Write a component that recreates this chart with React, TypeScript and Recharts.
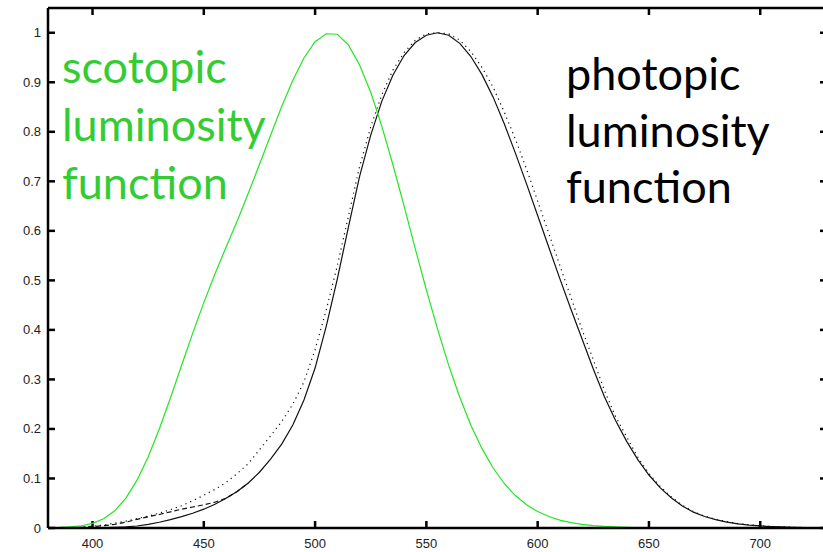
import React from 'react';
import { LineChart, Line, XAxis, YAxis, ReferenceLine } from 'recharts';

// wavelength (nm)
const wavelengths = [
  380, 385, 390, 395, 400, 405, 410, 415, 420, 425, 430, 435, 440, 445, 450, 455, 460, 465, 470, 475,
  480, 485, 490, 495, 500, 505, 510, 515, 520, 525, 530, 535, 540, 545, 550, 555, 560, 565, 570, 575,
  580, 585, 590, 595, 600, 605, 610, 615, 620, 625, 630, 635, 640, 645, 650, 655, 660, 665, 670, 675,
  680, 685, 690, 695, 700, 705, 710, 715, 720, 725, 730,
];

// scotopic luminosity function (green)
const scotopic = [
  0.000589, 0.001108, 0.002209, 0.00453, 0.00929, 0.01852, 0.03484, 0.0604, 0.0966, 0.1436,
  0.1998, 0.2625, 0.3281, 0.3931, 0.455, 0.513, 0.567, 0.62, 0.676, 0.734,
  0.793, 0.851, 0.904, 0.949, 0.982, 0.998, 0.997, 0.975, 0.935, 0.88,
  0.811, 0.733, 0.65, 0.564, 0.481, 0.402, 0.3288, 0.2639, 0.2076, 0.1602,
  0.1212, 0.0899, 0.0655, 0.0469, 0.03315, 0.02312, 0.01593, 0.01088, 0.00737, 0.00497,
  0.003335, 0.002235, 0.001497, 0.001005, 0.000677, 0.000459, 0.000313, 0.000215, 0.000148, 0.000103,
  0.0000715, 0.00005, 0.000035, 0.000025, 0.0000178, 0.0000127, 0.0000091, 0.0000066, 0.0000048, 0.0000035,
  0.0000025,
];

// photopic luminosity function, solid
const photopicSolid = [
  0.000039, 0.000064, 0.00012, 0.000217, 0.000396, 0.00064, 0.00121, 0.00218, 0.004, 0.0073,
  0.0116, 0.01684, 0.023, 0.0298, 0.038, 0.048, 0.06, 0.0739, 0.091, 0.1126,
  0.139, 0.1693, 0.208, 0.2586, 0.323, 0.4073, 0.503, 0.6082, 0.71, 0.7932,
  0.862, 0.91485, 0.954, 0.9803, 0.995, 1.0, 0.995, 0.9786, 0.952, 0.9154,
  0.87, 0.8163, 0.757, 0.6949, 0.631, 0.5668, 0.503, 0.4412, 0.381, 0.321,
  0.265, 0.217, 0.175, 0.1382, 0.107, 0.0816, 0.061, 0.04458, 0.032, 0.0232,
  0.017, 0.01192, 0.00821, 0.005723, 0.004102, 0.002929, 0.002091, 0.001484, 0.001047, 0.00074,
  0.00052,
];

// photopic, dashed (short-wavelength part only)
const photopicDashed = [
  0.0002, 0.000396, 0.0008, 0.00155, 0.0028, 0.0047, 0.0074, 0.0118, 0.0175, 0.0227,
  0.0273, 0.0326, 0.0379, 0.0424, 0.0468, 0.0521, 0.06, 0.0739, 0.091,
];

// photopic, dotted
const photopicDotted = [
  0.0004, 0.0007, 0.0012, 0.002, 0.0035, 0.006, 0.01, 0.014, 0.019, 0.024,
  0.03, 0.037, 0.045, 0.055, 0.066, 0.078, 0.092, 0.11, 0.13, 0.158,
  0.186, 0.215, 0.25, 0.295, 0.36, 0.44, 0.53, 0.63, 0.73, 0.81,
  0.875, 0.925, 0.96, 0.985, 0.998, 1.0, 0.998, 0.985, 0.962, 0.93,
  0.89, 0.84, 0.785, 0.725, 0.66, 0.595, 0.53, 0.465, 0.4, 0.34,
  0.278, 0.225, 0.184, 0.143, 0.11, 0.084, 0.063, 0.046, 0.033, 0.024,
  0.0175, 0.013, 0.009, 0.0065, 0.0045, 0.003, 0.0022, 0.0015, 0.001, 0.0007,
  0.0005,
];

const xDomain = [380, 730];
const yDomain = [0, 1.05];
const xTicks = [400, 450, 500, 550, 600, 650, 700];
const yTicks = [0, 0.1, 0.2, 0.3, 0.4, 0.5, 0.6, 0.7, 0.8, 0.9, 1];

const scotopicLabel = ['scotopic', 'luminosity', 'function'];
const photopicLabel = ['photopic', 'luminosity', 'function'];

const data = wavelengths.map((w, i) => ({
  w,
  scotopic: scotopic[i],
  solid: photopicSolid[i],
  dashed: i < photopicDashed.length ? photopicDashed[i] : null,
  dotted: photopicDotted[i],
}));

// layout
const CHART_W = 835;
const CHART_H = 552;
const M = { top: 8, right: 8, bottom: 0, left: 0 };
const Y_AXIS_W = 48;
const X_AXIS_H = 24;
const PLOT_W = CHART_W - M.left - M.right - Y_AXIS_W;
const PLOT_H = CHART_H - M.top - M.bottom - X_AXIS_H;
const TICK = 7;
const tickDX = (TICK * (xDomain[1] - xDomain[0])) / PLOT_W;
const tickDY = (TICK * (yDomain[1] - yDomain[0])) / PLOT_H;

const fontFamily = 'Liberation Sans, Arial, sans-serif';

const BottomTick = (props: any) => {
  const { x, y, payload } = props;
  return (
    <text x={x} y={y + 20} textAnchor="middle" fontFamily={fontFamily} fontSize={13} fill="#222">
      {String(payload.value)}
    </text>
  );
};

const LeftTick = (props: any) => {
  const { x, y, payload } = props;
  return (
    <text x={x - 7} y={y + 4.5} textAnchor="end" fontFamily={fontFamily} fontSize={13} fill="#222">
      {String(payload.value)}
    </text>
  );
};

export default function App() {
  return (
    <div
      style={{
        position: 'fixed',
        left: 0,
        top: 0,
        width: 823,
        height: 552,
        overflow: 'hidden',
        background: '#fff',
      }}
    >
      <LineChart width={CHART_W} height={CHART_H} data={data} margin={M}>
        <XAxis
          dataKey="w"
          type="number"
          domain={xDomain}
          ticks={xTicks}
          allowDataOverflow
          height={X_AXIS_H}
          tickSize={0}
          tickMargin={0}
          tickLine={false}
          axisLine={{ stroke: '#000000', strokeWidth: 2.5 }}
          tick={<BottomTick />}
        />
        <YAxis
          type="number"
          domain={yDomain}
          ticks={yTicks}
          allowDataOverflow
          width={Y_AXIS_W}
          tickSize={0}
          tickMargin={0}
          tickLine={false}
          axisLine={{ stroke: '#000000', strokeWidth: 2.5 }}
          tick={<LeftTick />}
        />
        {/* box frame: top and right */}
        <ReferenceLine y={yDomain[1]} stroke="#000000" strokeWidth={2.5} ifOverflow="visible" />
        <ReferenceLine x={xDomain[1]} stroke="#000000" strokeWidth={2.5} ifOverflow="visible" />
        {/* inward tick marks on all four sides */}
        {xTicks.map((t) => (
          <ReferenceLine
            key={'xb' + t}
            segment={[{ x: t, y: yDomain[0] }, { x: t, y: yDomain[0] + tickDY }]}
            stroke="#000000"
            strokeWidth={2.5}
            ifOverflow="visible"
          />
        ))}
        {xTicks.map((t) => (
          <ReferenceLine
            key={'xt' + t}
            segment={[{ x: t, y: yDomain[1] }, { x: t, y: yDomain[1] - tickDY }]}
            stroke="#000000"
            strokeWidth={2.5}
            ifOverflow="visible"
          />
        ))}
        {yTicks.map((t) => (
          <ReferenceLine
            key={'yl' + t}
            segment={[{ x: xDomain[0], y: t }, { x: xDomain[0] + tickDX, y: t }]}
            stroke="#000000"
            strokeWidth={2.5}
            ifOverflow="visible"
          />
        ))}
        {yTicks.map((t) => (
          <ReferenceLine
            key={'yr' + t}
            segment={[{ x: xDomain[1], y: t }, { x: xDomain[1] - tickDX, y: t }]}
            stroke="#000000"
            strokeWidth={2.5}
            ifOverflow="visible"
          />
        ))}
        <Line
          type="linear"
          dataKey="dotted"
          stroke="#111"
          strokeWidth={1.2}
          strokeDasharray="1.2 4"
          dot={false}
          activeDot={false}
          isAnimationActive={false}
        />
        <Line
          type="linear"
          dataKey="dashed"
          stroke="#111"
          strokeWidth={1.2}
          strokeDasharray="5 3"
          dot={false}
          activeDot={false}
          isAnimationActive={false}
        />
        <Line
          type="linear"
          dataKey="solid"
          stroke="#111"
          strokeWidth={1.2}
          dot={false}
          activeDot={false}
          isAnimationActive={false}
        />
        <Line
          type="linear"
          dataKey="scotopic"
          stroke="#22e622"
          strokeWidth={1.2}
          dot={false}
          activeDot={false}
          isAnimationActive={false}
        />
      </LineChart>
      <svg
        width={823}
        height={552}
        style={{ position: 'absolute', left: 0, top: 0, pointerEvents: 'none' }}
      >
        {scotopicLabel.map((t, i) => (
          <text
            key={'s' + i}
            x={62}
            y={83 + i * 58}
            fill="#33cc33"
            fontFamily="Lato, 'Open Sans', sans-serif"
            fontSize={45}
          >
            {t}
          </text>
        ))}
        {photopicLabel.map((t, i) => (
          <text
            key={'p' + i}
            x={566}
            y={90 + i * 56.5}
            fill="#000"
            fontFamily="Lato, 'Open Sans', sans-serif"
            fontSize={45}
          >
            {t}
          </text>
        ))}
      </svg>
    </div>
  );
}
